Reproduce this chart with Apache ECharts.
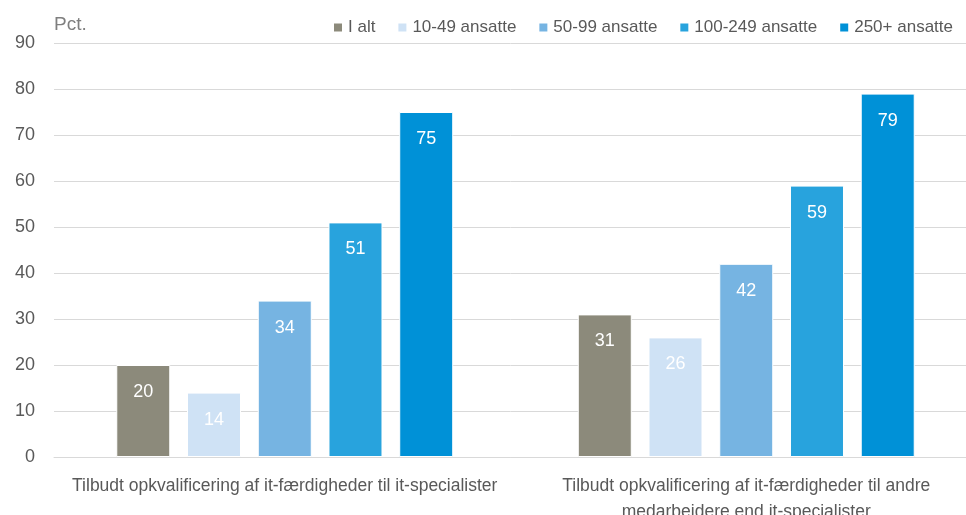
<!DOCTYPE html>
<html>
<head>
<meta charset="utf-8">
<script src="https://cdn.jsdelivr.net/npm/echarts@6/dist/echarts.min.js"></script>
<style>
  html, body { margin: 0; padding: 0; background: #fff; }
  #main { width: 966px; height: 515px; }
</style>
</head>
<body>
<div id="main"></div>
<script>
var categories = [
  'Tilbudt opkvalificering af it-færdigheder til it-specialister',
  'Tilbudt opkvalificering af it-færdigheder til andre\nmedarbejdere end it-specialister'
];
var seriesNames = ['I alt', '10-49 ansatte', '50-99 ansatte', '100-249 ansatte', '250+ ansatte'];
var iAlt = [20, 31];
var small = [14, 26];
var medium = [34, 42];
var large = [51, 59];
var largest = [75, 79];
var colors = ['#8c8a7b', '#cfe2f5', '#76b4e2', '#28a3dd', '#0091d7'];
var yTicks = { min: 0, max: 90, interval: 10 };

var font = '"Liberation Sans", Arial, sans-serif';
var values = [iAlt, small, medium, large, largest];

var series = [];
for (var i = 0; i < seriesNames.length; i++) {
  series.push({
    name: seriesNames[i],
    type: 'bar',
    data: values[i],
    barWidth: 54,
    barGap: '31%',
    itemStyle: { color: colors[i], borderColor: '#fff', borderWidth: 1 },
    label: {
      show: true,
      position: 'insideTop',
      distance: 18,
      color: '#fff',
      fontFamily: font,
      fontSize: 18
    }
  });
}

var chart = echarts.init(document.getElementById('main'));
chart.setOption({
  backgroundColor: '#ffffff',
  animation: false,
  textStyle: { fontFamily: font },
  legend: {
    data: seriesNames,
    left: 327,
    top: 14,
    width: 720,
    itemWidth: 10,
    itemHeight: 10,
    itemGap: 21,
    icon: 'rect',
    textStyle: { color: '#595959', fontSize: 17, fontFamily: font }
  },
  grid: { left: 54, right: -11, top: 43, bottom: 58, outerBoundsMode: 'none', containLabel: false },
  xAxis: {
    type: 'category',
    data: categories,
    axisTick: { show: false },
    axisLine: { lineStyle: { color: '#d9d9d9', width: 1 } },
    axisLabel: {
      color: '#595959',
      fontSize: 17.5,
      fontFamily: font,
      margin: 16,
      lineHeight: 26,
      interval: 0
    }
  },
  yAxis: {
    type: 'value',
    min: yTicks.min,
    max: yTicks.max,
    interval: yTicks.interval,
    name: 'Pct.',
    nameLocation: 'end',
    nameGap: 9,
    nameTextStyle: { color: '#7f7f7f', fontSize: 19, fontFamily: font, align: 'left' },
    axisLine: { show: false },
    axisTick: { show: false },
    splitLine: { lineStyle: { color: '#d9d9d9', width: 1 } },
    axisLabel: { color: '#595959', fontSize: 18, fontFamily: font, margin: 19 }
  },
  series: series
});
</script>
</body>
</html>
